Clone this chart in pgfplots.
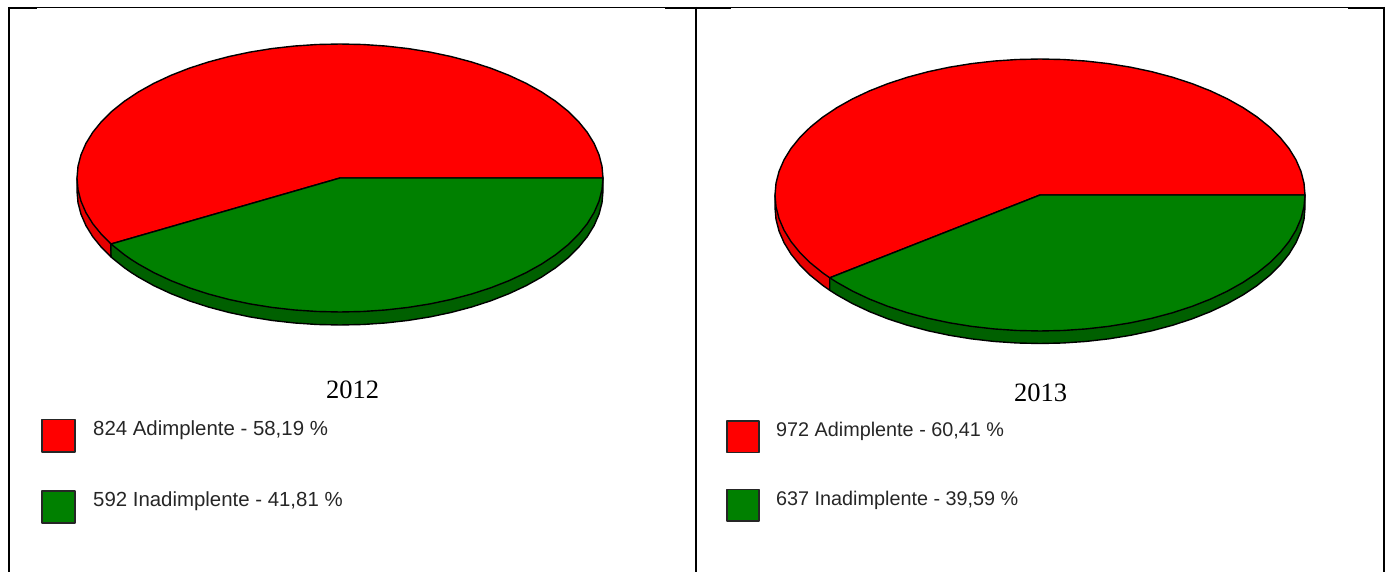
\documentclass[border=0pt]{standalone}
\usepackage{fontspec}
\setmainfont{Liberation Serif}
\newfontfamily\legendfont{Liberation Sans}
\usepackage{pgfplots}
\usepackage{pgfplotstable}
\pgfplotsset{compat=1.18}

\definecolor{adim}{HTML}{FF0000}
\definecolor{inad}{HTML}{008000}
\definecolor{adimwall}{HTML}{E60000}
\definecolor{inadwall}{HTML}{006000}

% rim of a unit pie, angle a in degrees; 209.5 and 217.5 are the two split points
% 2012: 824 / 592, 2013: 972 / 637
\pgfplotstableread{
a u v
0 1 0
5 .9962 .0872
10 .9848 .1736
15 .9659 .2588
20 .9397 .3420
25 .9063 .4226
30 .8660 .5000
35 .8192 .5736
40 .7660 .6428
45 .7071 .7071
50 .6428 .7660
55 .5736 .8192
60 .5000 .8660
65 .4226 .9063
70 .3420 .9397
75 .2588 .9659
80 .1736 .9848
85 .0872 .9962
90 0 1
95 -.0872 .9962
100 -.1736 .9848
105 -.2588 .9659
110 -.3420 .9397
115 -.4226 .9063
120 -.5000 .8660
125 -.5736 .8192
130 -.6428 .7660
135 -.7071 .7071
140 -.7660 .6428
145 -.8192 .5736
150 -.8660 .5000
155 -.9063 .4226
160 -.9397 .3420
165 -.9659 .2588
170 -.9848 .1736
175 -.9962 .0872
180 -1 0
185 -.9962 -.0872
190 -.9848 -.1736
195 -.9659 -.2588
200 -.9397 -.3420
205 -.9063 -.4226
209.5 -.8704 -.4924
210 -.8660 -.5000
215 -.8192 -.5736
217.5 -.7934 -.6088
220 -.7660 -.6428
225 -.7071 -.7071
230 -.6428 -.7660
235 -.5736 -.8192
240 -.5000 -.8660
245 -.4226 -.9063
250 -.3420 -.9397
255 -.2588 -.9659
260 -.1736 -.9848
265 -.0872 -.9962
270 0 -1
275 .0872 -.9962
280 .1736 -.9848
285 .2588 -.9659
290 .3420 -.9397
295 .4226 -.9063
300 .5000 -.8660
305 .5736 -.8192
310 .6428 -.7660
315 .7071 -.7071
320 .7660 -.6428
325 .8192 -.5736
330 .8660 -.5000
335 .9063 -.4226
340 .9397 -.3420
345 .9659 -.2588
350 .9848 -.1736
355 .9962 -.0872
360 1 0
}\rim

\newcommand{\legtextA}{\legendfont\fontsize{20.4}{22}\selectfont}
\newcommand{\legtextB}{\legendfont\fontsize{19.8}{22}\selectfont}
\newcommand{\yeartext}{\fontsize{26.5}{28}\selectfont}

\begin{document}
\begin{tikzpicture}
    \path[use as bounding box] (0,0) rectangle (1390pt,572pt);
    \begin{axis}[
        at={(0,0)}, anchor=south west,
        scale only axis,
        width=1390pt, height=572pt,
        xmin=0, xmax=1390,
        ymin=0, ymax=572,
        y dir=reverse,
        hide axis,
        every axis plot/.append style={no markers, line join=round},
        pie/.style={draw=black, line width=1.4pt},
        box/.style={draw=black!85, line width=1.3pt},
        ]

        %% table frame
        \addplot [black, line width=1.2pt] coordinates {(8,7.5) (1384,7.5)};
        \addplot [black, line width=2.5pt] coordinates {(8,8.2) (37,8.2)};
        \addplot [black, line width=2.5pt] coordinates {(665,8.2) (731,8.2)};
        \addplot [black, line width=2.5pt] coordinates {(1348,8.2) (1385,8.2)};
        \addplot [black, line width=2.2pt] coordinates {(9,7) (9,572)};
        \addplot [black, line width=2.2pt] coordinates {(696,7) (696,572)};
        \addplot [black, line width=2.2pt] coordinates {(1384,7) (1384,572)};

        %% 2012 pie, walls first
        \addplot [pie, fill=adimwall] table [
            x expr={340+263*\thisrow{u}}, y expr={191-134*\thisrow{v}},
            restrict expr to domain={\thisrow{a}}{179.9:209.6}] {\rim}
            -- (axis cs:110.8,244) -- (axis cs:77,178) -- cycle;
        \addplot [pie, fill=inadwall] table [
            x expr={340+263*\thisrow{u}}, y expr={191-134*\thisrow{v}},
            restrict expr to domain={\thisrow{a}}{209.4:360.1}] {\rim}
            -- (axis cs:603,178) -- (axis cs:110.8,244) -- cycle;
        \addplot [pie, fill=adim] table [
            x expr={340+263*\thisrow{u}}, y expr={178-134*\thisrow{v}},
            restrict expr to domain={\thisrow{a}}{-0.1:209.6}] {\rim}
            -- (axis cs:340,178) -- cycle;
        \addplot [pie, fill=inad] table [
            x expr={340+263*\thisrow{u}}, y expr={178-134*\thisrow{v}},
            restrict expr to domain={\thisrow{a}}{209.4:360.1}] {\rim}
            -- (axis cs:340,178) -- cycle;

        %% 2013 pie
        \addplot [pie, fill=adimwall] table [
            x expr={1040+265*\thisrow{u}}, y expr={207.5-136*\thisrow{v}},
            restrict expr to domain={\thisrow{a}}{179.9:217.6}] {\rim}
            -- (axis cs:829.7,277.8) -- (axis cs:775,195) -- cycle;
        \addplot [pie, fill=inadwall] table [
            x expr={1040+265*\thisrow{u}}, y expr={207.5-136*\thisrow{v}},
            restrict expr to domain={\thisrow{a}}{217.4:360.1}] {\rim}
            -- (axis cs:1305,195) -- (axis cs:829.7,277.8) -- cycle;
        \addplot [pie, fill=adim] table [
            x expr={1040+265*\thisrow{u}}, y expr={195-136*\thisrow{v}},
            restrict expr to domain={\thisrow{a}}{-0.1:217.6}] {\rim}
            -- (axis cs:1040,195) -- cycle;
        \addplot [pie, fill=inad] table [
            x expr={1040+265*\thisrow{u}}, y expr={195-136*\thisrow{v}},
            restrict expr to domain={\thisrow{a}}{217.4:360.1}] {\rim}
            -- (axis cs:1040,195) -- cycle;

        %% legend boxes
        \addplot [box, fill=adim] coordinates {(42,419.5) (75,419.5) (75,452) (42,452)} -- cycle;
        \addplot [box, fill=inad] coordinates {(42,491) (75,491) (75,523) (42,523)} -- cycle;
        \addplot [box, fill=adim] coordinates {(727,421) (759,421) (759,452.5) (727,452.5)} -- cycle;
        \addplot [box, fill=inad] coordinates {(727,489.5) (759,489.5) (759,521) (727,521)} -- cycle;

        \node [anchor=base, inner sep=0pt, font=\yeartext] at (axis cs:352.5,398) {2012};
        \node [anchor=base, inner sep=0pt, font=\yeartext] at (axis cs:1040.5,401) {2013};

        \node [anchor=base west, inner sep=0pt, font=\legtextA, text=black!85] at (axis cs:93,435) {824 Adimplente - 58,19 \%};
        \node [anchor=base west, inner sep=0pt, font=\legtextA, text=black!85] at (axis cs:93,506) {592 Inadimplente - 41,81 \%};
        \node [anchor=base west, inner sep=0pt, font=\legtextB, text=black!85] at (axis cs:776,436.5) {972 Adimplente - 60,41 \%};
        \node [anchor=base west, inner sep=0pt, font=\legtextB, text=black!85] at (axis cs:776,505) {637 Inadimplente - 39,59 \%};
    \end{axis}
\end{tikzpicture}
\end{document}
